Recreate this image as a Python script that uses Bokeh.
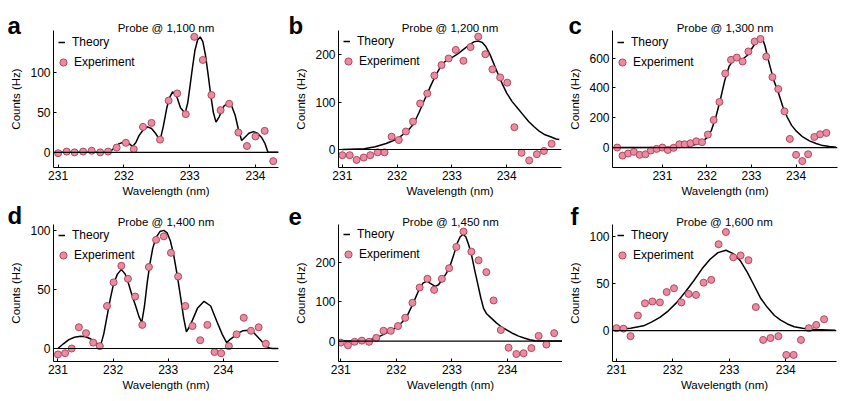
from bokeh.plotting import figure
from bokeh.layouts import row, column
from bokeh.models import Label, Legend, LegendItem, Span, FixedTicker, Range1d
from bokeh.core.properties import value
from bokeh.embed import file_html
from bokeh.resources import INLINE

# ---------------- data ----------------
titles = ["Probe @ 1,100 nm", "Probe @ 1,200 nm", "Probe @ 1,300 nm",
          "Probe @ 1,400 nm", "Probe @ 1,450 nm", "Probe @ 1,600 nm"]
letters = ["a", "b", "c", "d", "e", "f"]
x_ticks = [231, 232, 233, 234]
a_yticks = [0, 50, 100]
b_yticks = [0, 100, 200]
c_yticks = [0, 200, 400, 600]
d_yticks = [0, 50, 100]
e_yticks = [0, 100, 200]
f_yticks = [0, 50, 100]

# panel a (1,100 nm)
a_exp_wl = [231.0, 231.13, 231.25, 231.38, 231.51, 231.64, 231.76, 231.89, 232.03, 232.15,
            232.29, 232.42, 232.55, 232.68, 232.81, 232.94, 233.07, 233.2, 233.33, 233.47,
            233.6, 233.74, 233.87, 234.0, 234.14, 234.27]
a_exp_counts = [-1, 1, 0, 1, 2, 0, 1, 6, 12, 4, 32, 37, 16, 65, 74, 48, 145, 116, 72, 53,
                61, 25, 8, 20, 27, -11]
a_th_wl = [231.0, 231.77, 231.82, 231.87, 231.93, 232.0, 232.07, 232.13, 232.18, 232.23,
           232.3, 232.36, 232.42, 232.48, 232.55, 232.6, 232.65, 232.69, 232.74, 232.8,
           232.86, 232.93, 232.97, 233.0, 233.04, 233.08, 233.12, 233.16, 233.2, 233.24,
           233.28, 233.32, 233.36, 233.4, 233.45, 233.52, 233.59, 233.64, 233.69, 233.74,
           233.79, 233.84, 233.9, 233.97, 234.03, 234.09, 234.14, 234.19, 234.35]
a_th_counts = [0, 0, 3, 7, 11, 13, 11.5, 7.5, 12, 21, 29, 32, 30, 24, 15, 33, 55, 68, 76, 71,
               56, 49, 62, 80, 105, 128, 141, 145, 139, 122, 98, 72, 50, 38, 45, 58, 62.5, 58,
               47, 29, 15, 19, 24, 26, 24, 19, 12, 0, 0]

# panel b (1,200 nm)
b_exp_wl = [231.0, 231.135, 231.26, 231.39, 231.51, 231.645, 231.77, 231.9, 232.03, 232.16,
            232.29, 232.42, 232.55, 232.68, 232.81, 232.94, 233.07, 233.21, 233.34, 233.48,
            233.61, 233.74, 233.88, 234.01, 234.14, 234.27, 234.41, 234.55, 234.68, 234.82]
b_exp_counts = [-12, -12, -22, -17, -12, -6, -6, 27, 20, 38, 59, 97, 118, 156, 178, 192, 210,
                187, 216, 238, 201, 169, 152, 141, 47, -7, -23, -10, -3, 12]
b_th_wl = [231.0, 231.4, 231.6, 231.8, 232.0, 232.2, 232.3, 232.4, 232.5, 232.6, 232.7, 232.8,
           232.9, 233.0, 233.1, 233.2, 233.3, 233.4, 233.48, 233.55, 233.62, 233.7, 233.8,
           233.9, 234.0, 234.1, 234.2, 234.3, 234.4, 234.5, 234.6, 234.7, 234.8, 234.9, 234.96]
b_th_counts = [0, 1.4, 5.6, 12.6, 22, 40, 54, 78, 105, 131, 156, 176, 189, 194, 201, 210, 219,
               227, 229, 226, 217, 199, 171, 143, 119, 101, 87, 73, 59, 48, 38, 31, 27, 22, 21]

# panel c (1,300 nm)
c_exp_wl = [229.985, 230.105, 230.23, 230.36, 230.49, 230.62, 230.74, 230.87, 231.0, 231.12,
            231.25, 231.38, 231.5, 231.63, 231.76, 231.89, 232.02, 232.15, 232.28, 232.41,
            232.54, 232.67, 232.8, 232.93, 233.07, 233.2, 233.33, 233.47, 233.6, 233.74,
            233.86, 234.0, 234.14, 234.27, 234.41, 234.54, 234.68]
c_exp_counts = [0, -54, -40, -29, -49, -45, -20, -9, 0, -16, -2, 22, 22, 29, 42, 36, 87, 185,
                306, 497, 589, 604, 578, 645, 712, 729, 611, 473, 393, 243, 58, -49, -91, -45,
                71, 89, 98]
c_th_wl = [229.98, 231.4, 231.6, 231.8, 231.9, 232.0, 232.1, 232.2, 232.3, 232.4, 232.5, 232.6,
           232.7, 232.8, 232.9, 233.0, 233.1, 233.2, 233.25, 233.3, 233.4, 233.5, 233.6, 233.7,
           233.8, 233.9, 234.0, 234.15, 234.3, 234.45, 234.6, 234.75, 234.9]
c_th_counts = [0, 2, 9, 25, 40, 67, 116, 205, 321, 451, 547, 589, 598, 593, 618, 662, 707, 736,
               729, 685, 562, 451, 372, 277, 205, 149, 112, 71, 45, 27, 13, 7, 2]

# panel d (1,400 nm)
d_exp_wl = [231.0, 231.13, 231.25, 231.38, 231.51, 231.64, 231.76, 231.89, 232.01, 232.15,
            232.27, 232.4, 232.53, 232.65, 232.78, 232.92, 233.05, 233.18, 233.31, 233.44,
            233.58, 233.71, 233.84, 233.96, 234.1, 234.24, 234.37, 234.5, 234.64, 234.77]
d_exp_counts = [-5, -4, 0, 18, 13, 5, 2, 36, 56, 70, 59, 44, 20, 69, 92, 95, 81, 61, 36, 19,
                7, 20, -3, -4, 2, 12, 26, 15, 18, 4]
d_th_wl = [231.0, 231.1, 231.2, 231.3, 231.41, 231.5, 231.6, 231.7, 231.77, 231.83, 231.89,
           231.95, 232.01, 232.08, 232.15, 232.22, 232.28, 232.35, 232.41, 232.47, 232.52,
           232.57, 232.62, 232.67, 232.72, 232.78, 232.85, 232.92, 232.98, 233.04, 233.1,
           233.16, 233.22, 233.28, 233.33, 233.38, 233.44, 233.53, 233.65, 233.77, 233.89,
           233.98, 234.06, 234.13, 234.19, 234.27, 234.35, 234.47, 234.56, 234.62, 234.7,
           234.77, 234.84, 234.89, 235.0]
d_th_counts = [0, 4, 7.5, 9.5, 10.4, 10, 8, 4.5, 2, 12, 27, 42, 55, 63, 67, 63, 55, 44, 36, 27,
               22, 36, 56, 72, 85, 94, 99, 100, 98, 91, 79, 63, 45, 26, 14, 18, 24, 34, 40, 36,
               22, 12, 5, 8, 10, 13, 15, 15.5, 13, 10, 6, 2, 0.5, 0, 0]

# panel e (1,450 nm)
e_exp_wl = [231.0, 231.13, 231.25, 231.38, 231.51, 231.64, 231.77, 231.9, 232.03, 232.16,
            232.29, 232.42, 232.56, 232.68, 232.82, 232.95, 233.08, 233.21, 233.35, 233.48,
            233.62, 233.75, 233.88, 234.02, 234.16, 234.29, 234.43, 234.56, 234.7, 234.84]
e_exp_counts = [-4, -11, -2, 1, -2, 8, 26, 26, 38, 59, 97, 136, 158, 130, 158, 185, 239, 278,
                227, 205, 175, 103, 28, -17, -33, -31, -18, 13, -9, 20]
e_th_wl = [231.0, 231.4, 231.5, 231.6, 231.7, 231.8, 231.9, 232.0, 232.1, 232.2, 232.3, 232.42,
           232.48, 232.55, 232.62, 232.7, 232.76, 232.82, 232.9, 232.97, 233.04, 233.1, 233.15,
           233.2, 233.25, 233.3, 233.35, 233.41, 233.47, 233.52, 233.57, 233.62, 233.68, 233.8,
           233.9, 234.0, 234.1, 234.2, 234.3, 234.4, 234.5, 234.6, 234.99]
e_th_counts = [0, 1, 3, 6, 12, 19, 26, 35, 47, 65, 95, 134, 147, 152, 146, 139, 143, 155, 172,
               192, 222, 250, 265, 271, 265, 245, 221, 180, 142, 110, 83, 70, 62, 46, 35, 27,
               19, 12.5, 7.5, 3.3, 1, 0, 0]

# panel f (1,600 nm)
f_exp_wl = [231.0, 231.125, 231.25, 231.38, 231.505, 231.636, 231.77, 231.89, 232.02, 232.15,
            232.28, 232.41, 232.545, 232.68, 232.81, 232.94, 233.07, 233.2, 233.34, 233.47,
            233.6, 233.73, 233.87, 234.01, 234.14, 234.27, 234.41, 234.54, 234.68]
f_exp_counts = [2.5, 2, -6, 16, 29, 31, 30, 41, 45, 30, 39, 38, 51, 54, 92, 105, 78, 80, 75,
                25, -10, -8, -6, -26, -26, -10, 2.5, 6, 12]
f_th_wl = [231.0, 231.25, 231.48, 231.62, 231.77, 231.92, 232.07, 232.22, 232.37, 232.52,
           232.66, 232.8, 232.94, 233.07, 233.2, 233.32, 233.44, 233.55, 233.67, 233.8, 233.91,
           234.03, 234.15, 234.3, 234.5, 234.88]
f_th_counts = [1, 2.5, 5, 9, 14, 21, 30, 41, 53, 66, 76, 83, 85.5, 82, 74, 62, 48, 35, 25, 16,
               11, 7, 4, 2.5, 1, 0.3]

# ---------------- style / layout ----------------
FONT = "Liberation Sans"
FILL = "#e98ca2"
EDGE = "#b2475f"

panels = [
    dict(ex=a_exp_wl, ey=a_exp_counts, tx=a_th_wl, ty=a_th_counts, yt=a_yticks,
         xr=(230.93, 234.35), yr=(-19, 153), w=280, h=200, bl=53, br=2, bt=30, bb=33, lb=25,
         lx=7),
    dict(ex=b_exp_wl, ey=b_exp_counts, tx=b_th_wl, ty=b_th_counts, yt=b_yticks,
         xr=(230.93, 235.0), yr=(-38, 251), w=282, h=200, bl=58, br=1, bt=30, bb=32, lb=25,
         lx=8),
    dict(ex=c_exp_wl, ey=c_exp_counts, tx=c_th_wl, ty=c_th_counts, yt=c_yticks,
         xr=(229.88, 234.93), yr=(-134, 786), w=281, h=200, bl=50, br=6, bt=30, bb=33, lb=25,
         lx=6),
    dict(ex=d_exp_wl, ey=d_exp_counts, tx=d_th_wl, ty=d_th_counts, yt=d_yticks,
         xr=(230.92, 235.0), yr=(-11, 105), w=280, h=201, bl=53, br=2, bt=24, bb=39, lb=15,
         lx=7),
    dict(ex=e_exp_wl, ey=e_exp_counts, tx=e_th_wl, ty=e_th_counts, yt=e_yticks,
         xr=(230.96, 234.99), yr=(-52, 296), w=282, h=201, bl=58, br=0, bt=23, bb=39, lb=15,
         lx=8),
    dict(ex=f_exp_wl, ey=f_exp_counts, tx=f_th_wl, ty=f_th_counts, yt=f_yticks,
         xr=(230.93, 234.9), yr=(-33, 113), w=281, h=201, bl=50, br=7, bt=23, bb=40, lb=15,
         lx=8),
]


def make_panel(i, cfg):
    p = figure(width=cfg["w"], height=cfg["h"], x_range=Range1d(*cfg["xr"]),
               y_range=Range1d(*cfg["yr"]), output_backend="svg", toolbar_location=None,
               min_border_left=cfg["bl"], min_border_right=cfg["br"],
               min_border_top=cfg["bt"], min_border_bottom=cfg["bb"])
    p.outline_line_color = None
    p.grid.visible = False
    p.background_fill_color = "white"
    p.border_fill_color = "white"

    p.xaxis.ticker = FixedTicker(ticks=x_ticks)
    p.yaxis.ticker = FixedTicker(ticks=cfg["yt"])
    p.xaxis.axis_label = "Wavelength (nm)"
    p.yaxis.axis_label = "Counts (Hz)"
    for ax in (p.xaxis[0], p.yaxis[0]):
        ax.axis_line_color = "black"
        ax.axis_line_width = 1
        ax.major_tick_line_color = "black"
        ax.major_tick_in = 3
        ax.major_tick_out = 0
        ax.minor_tick_line_color = None
        ax.major_label_text_font = FONT
        ax.major_label_text_font_size = "12px"
        ax.major_label_text_color = "black"
        ax.axis_label_text_font = FONT
        ax.axis_label_text_font_size = "11.5px"
        ax.axis_label_text_font_style = "normal"
        ax.axis_label_text_color = "black"
        ax.major_label_standoff = 3
    p.xaxis.axis_label_standoff = 2
    p.yaxis.axis_label_standoff = 5

    p.add_layout(Span(location=0, dimension="width", line_color="black", line_width=1.2))
    r_th = p.line(cfg["tx"], cfg["ty"], line_color="black", line_width=1.5)
    r_ex = p.scatter(cfg["ex"], cfg["ey"], size=7, fill_color=FILL, line_color=EDGE,
                     line_width=1)

    fw = cfg["w"] - cfg["bl"] - cfg["br"]
    fh = cfg["h"] - cfg["bt"] - cfg["bb"]

    leg1 = Legend(items=[LegendItem(label="Theory", renderers=[r_th])],
                  location=(5, fh - 20), padding=2, margin=0, glyph_width=7,
                  glyph_height=16, label_height=16, label_standoff=7, spacing=0,
                  border_line_color=None, background_fill_alpha=0,
                  label_text_font=FONT, label_text_font_size="12px",
                  label_text_color="black")
    leg2 = Legend(items=[LegendItem(label="Experiment", renderers=[r_ex])],
                  location=(1, fh - 41), padding=0, margin=0, glyph_width=18,
                  glyph_height=18, label_height=18, label_standoff=2, spacing=0,
                  border_line_color=None, background_fill_alpha=0,
                  label_text_font=FONT, label_text_font_size="12px",
                  label_text_color="black")
    p.add_layout(leg1)
    p.add_layout(leg2)

    # probe title in the "above" side panel (not clipped to the frame)
    p.add_layout(Label(x=fw / 2, y=3, x_units="screen", y_units="screen",
                       text=titles[i], text_align="center", text_baseline="alphabetic",
                       text_font=FONT, text_font_size="11.5px", text_color="black"), "above")

    # panel letter: anchored at the frame's top-left corner, shifted by pixel offsets
    p.text(x=[cfg["xr"][0]], y=[cfg["yr"][1]], text=[letters[i]],
           x_offset=cfg["lx"] - cfg["bl"], y_offset=-(cfg["bt"] - cfg["lb"]),
           text_align="left", text_baseline="alphabetic", text_font=value(FONT),
           text_font_size="24px", text_font_style="bold", text_color="black",
           level="overlay")
    return p


figs = [make_panel(i, c) for i, c in enumerate(panels)]
layout = column(row(*figs[:3], spacing=0), row(*figs[3:], spacing=0), spacing=0)

open("out.html", "w").write(file_html(layout, INLINE))
